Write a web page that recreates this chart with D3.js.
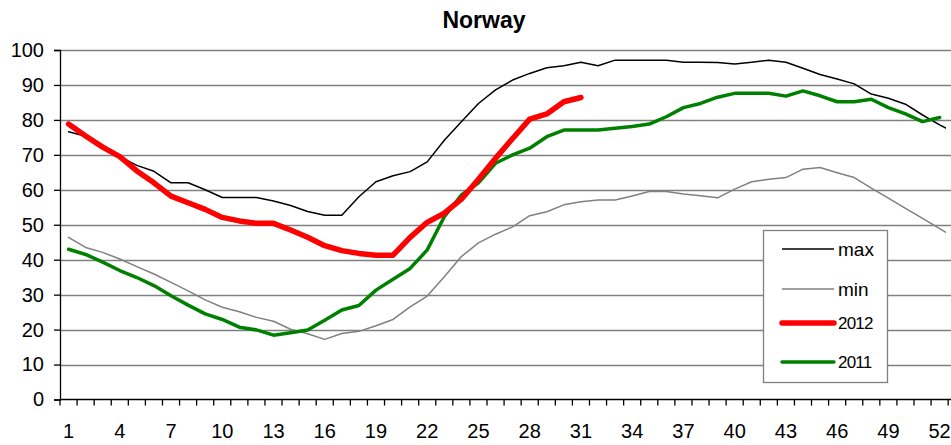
<!DOCTYPE html>
<html>
<head>
<meta charset="utf-8">
<script src="https://cdn.jsdelivr.net/npm/d3@7"></script>
<style>
  body { margin: 0; background: #fff; }
  text { font-family: "Liberation Sans", Arial, sans-serif; fill: #000; }
</style>
</head>
<body>
<div id="chart"></div>
<script>
// weeks (53 categories, last one is cut off at the right edge)
const weeks = d3.range(1, 54);
const weekLabels = [1, 4, 7, 10, 13, 16, 19, 22, 25, 28, 31, 34, 37, 40, 43, 46, 49, 52];
const yTicks = [0, 10, 20, 30, 40, 50, 60, 70, 80, 90, 100];

const maxVals = [76.6, 75.3, 72, 69.5, 67, 65.3, 62, 62, 60, 57.8,
  57.8, 57.8, 56.8, 55.5, 53.8, 52.7, 52.7, 58, 62.3, 64,
  65.2, 68, 74.2, 79.5, 84.7, 88.6, 91.4, 93.3, 94.9, 95.5,
  96.5, 95.5, 97.1, 97.1, 97.1, 97.1, 96.5, 96.5, 96.4, 96,
  96.5, 97.1, 96.5, 94.8, 93, 91.7, 90.3, 87.4, 86.2, 84.5,
  81.4, 78.6, 76];

const minVals = [46.4, 43.5, 42.1, 40.2, 38, 35.9, 33.5, 31.1, 28.5, 26.4,
  25.1, 23.5, 22.4, 20.1, 18.8, 17.2, 18.9, 19.5, 21.1, 22.9,
  26.5, 29.6, 35.1, 40.9, 44.8, 47.3, 49.4, 52.6, 53.7, 55.7,
  56.6, 57.1, 57.1, 58.2, 59.5, 59.5, 58.8, 58.3, 57.7, 60.2,
  62.3, 63, 63.5, 65.9, 66.4, 64.9, 63.5, 60.5, 57.6, 54.7,
  51.8, 48.9, 46];

const vals2012 = [78.8, 75.4, 72.2, 69.5, 65.4, 62, 58.2, 56.3, 54.4, 52.1,
  51.1, 50.4, 50.4, 48.5, 46.4, 44, 42.6, 41.8, 41.3, 41.3,
  46.4, 50.7, 53.3, 57.3, 63, 69, 74.7, 80.2, 81.7, 85.2, 86.4];

const vals2011 = [43, 41.5, 39.3, 36.9, 34.9, 32.6, 29.7, 27, 24.5, 22.9,
  20.7, 19.9, 18.4, 19.1, 19.9, 22.7, 25.6, 26.9, 31.3, 34.4,
  37.5, 42.8, 52.3, 58.5, 62, 67.6, 70, 71.9, 75.2, 77.1,
  77.1, 77.1, 77.6, 78.1, 78.8, 80.9, 83.5, 84.7, 86.5, 87.6,
  87.6, 87.6, 86.8, 88.3, 86.9, 85.2, 85.2, 85.9, 83.5, 81.7,
  79.5, 80.7];

const series = [
  { name: "max", values: maxVals, color: "#000000", width: 1.5 },
  { name: "min", values: minVals, color: "#808080", width: 1.5 },
  { name: "2011", values: vals2011, color: "#008000", width: 3.5 },
  { name: "2012", values: vals2012, color: "#ff0000", width: 5.5 }
];

const width = 951, height = 445;
const plotLeft = 60, plotTop = 50, plotBottom = 399.5;
const step = 17.08;

const svg = d3.select("#chart").append("svg")
  .attr("width", width).attr("height", height);

const x = d3.scaleBand()
  .domain(weeks)
  .range([plotLeft, plotLeft + step * weeks.length])
  .padding(0);

const y = d3.scaleLinear().domain([0, 100]).range([plotBottom, plotTop]);

// title
svg.append("text")
  .attr("x", 484).attr("y", 28)
  .attr("text-anchor", "middle")
  .style("font-size", "23px").style("font-weight", "bold")
  .text("Norway");

// gridlines
svg.append("g").selectAll("line")
  .data(yTicks.filter(d => d > 0))
  .join("line")
  .attr("x1", plotLeft).attr("x2", width)
  .attr("y1", d => Math.round(y(d)) + 0.5).attr("y2", d => Math.round(y(d)) + 0.5)
  .attr("stroke", "#808080").attr("stroke-width", 1.3);

// y axis
const yAxis = svg.append("g")
  .attr("transform", `translate(${plotLeft},0)`)
  .call(d3.axisLeft(y).tickValues(yTicks).tickSize(6).tickPadding(10));
yAxis.select(".domain").attr("stroke", "#000").attr("stroke-width", 1.3);
yAxis.selectAll(".tick line").attr("stroke", "#000").attr("stroke-width", 1.3);
yAxis.selectAll("text").style("font-size", "20px")
  .style("font-family", "'Liberation Sans', Arial, sans-serif").attr("fill", "#000");

// x axis: labels at category centres
const xAxis = svg.append("g")
  .attr("transform", `translate(0,${plotBottom})`)
  .call(d3.axisBottom(x).tickValues(weekLabels).tickSize(0).tickPadding(24));
xAxis.select(".domain").remove();
xAxis.selectAll("text").style("font-size", "20px")
  .style("font-family", "'Liberation Sans', Arial, sans-serif").attr("fill", "#000");

svg.append("line")
  .attr("x1", plotLeft).attr("x2", width)
  .attr("y1", plotBottom).attr("y2", plotBottom)
  .attr("stroke", "#000").attr("stroke-width", 1.3);

// tick marks at category boundaries
svg.append("g").selectAll("line")
  .data(weeks)
  .join("line")
  .attr("x1", d => x(d)).attr("x2", d => x(d))
  .attr("y1", plotBottom).attr("y2", plotBottom + 6)
  .attr("stroke", "#000").attr("stroke-width", 1.3);

// clip lines to the plot area
svg.append("clipPath").attr("id", "plotclip")
  .append("rect").attr("x", plotLeft).attr("y", 0)
  .attr("width", 946 - plotLeft).attr("height", height);

const line = d3.line()
  .x((d, i) => x(weeks[i]) + x.bandwidth() / 2)
  .y(d => y(d));

svg.append("g").attr("clip-path", "url(#plotclip)")
  .selectAll("path")
  .data(series)
  .join("path")
  .attr("d", d => line(d.values))
  .attr("fill", "none")
  .attr("stroke", d => d.color)
  .attr("stroke-width", d => d.width)
  .attr("stroke-linejoin", "round")
  .attr("stroke-linecap", "round");

// legend
const legendOrder = ["max", "min", "2012", "2011"];
const legendY = [249, 289, 323, 362];
const legend = svg.append("g");
legend.append("rect")
  .attr("x", 763.5).attr("y", 230.5)
  .attr("width", 124).attr("height", 152)
  .attr("fill", "#fff").attr("stroke", "#808080").attr("stroke-width", 1.3);

legendOrder.forEach((name, i) => {
  const s = series.find(d => d.name === name);
  legend.append("line")
    .attr("x1", 782).attr("x2", 834)
    .attr("y1", legendY[i]).attr("y2", legendY[i])
    .attr("stroke", s.color).attr("stroke-width", s.width)
    .attr("stroke-linecap", s.width > 3 ? "round" : "butt");
  legend.append("text")
    .attr("x", 838).attr("y", legendY[i])
    .attr("dy", "0.35em")
    .style("font-size", name.length === 4 ? "17px" : "19px")
    .style("letter-spacing", name.length === 4 ? "-0.8px" : "0px")
    .text(name);
});
</script>
</body>
</html>
